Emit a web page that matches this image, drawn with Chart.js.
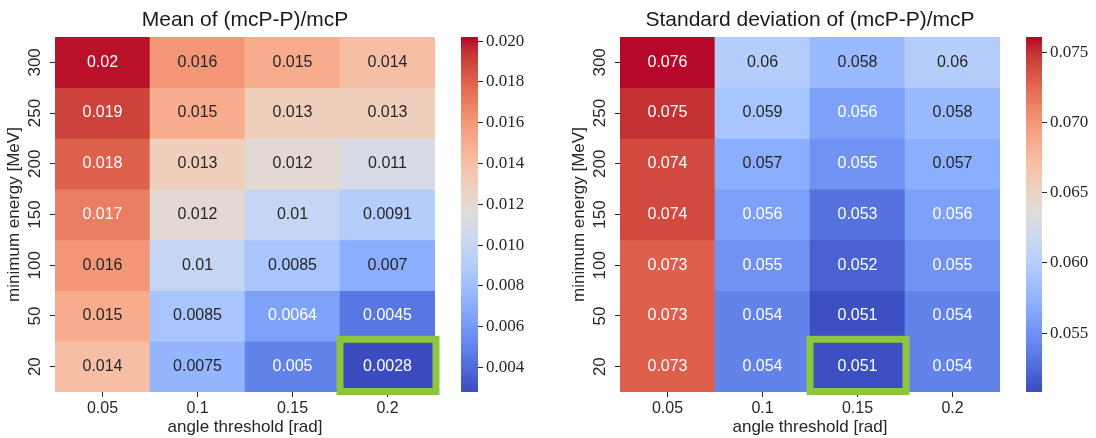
<!DOCTYPE html>
<html>
<head>
<meta charset="utf-8">
<script src="https://cdn.jsdelivr.net/npm/chart.js@4.4.1/dist/chart.umd.min.js"></script>
<style>
  html, body { margin: 0; padding: 0; background: #fff; }
  #wrap { position: relative; width: 1096px; height: 438px; overflow: hidden; }
  canvas { position: absolute; top: 0; }
</style>
</head>
<body>
<div id="wrap">
  <canvas id="meanMap" width="450" height="438" style="left:0px"></canvas>
  <canvas id="meanBar" width="105" height="438" style="left:455px"></canvas>
  <canvas id="stdMap" width="450" height="438" style="left:565px"></canvas>
  <canvas id="stdBar" width="76" height="438" style="left:1020px"></canvas>
</div>
<script>
// Grid labels (rows listed top to bottom)
const angles = ['0.05', '0.1', '0.15', '0.2'];
const energies = ['300', '250', '200', '150', '100', '50', '20'];

// Mean of (mcP-P)/mcP, one array per energy row
const meanValues = [
  [0.02, 0.016, 0.015, 0.014],
  [0.019, 0.015, 0.013, 0.013],
  [0.018, 0.013, 0.012, 0.011],
  [0.017, 0.012, 0.01, 0.0091],
  [0.016, 0.01, 0.0085, 0.007],
  [0.015, 0.0085, 0.0064, 0.0045],
  [0.014, 0.0075, 0.005, 0.0028]
];

// Standard deviation of (mcP-P)/mcP
const stdValues = [
  [0.076, 0.06, 0.058, 0.06],
  [0.075, 0.059, 0.056, 0.058],
  [0.074, 0.057, 0.055, 0.057],
  [0.074, 0.056, 0.053, 0.056],
  [0.073, 0.055, 0.052, 0.055],
  [0.073, 0.054, 0.051, 0.054],
  [0.073, 0.054, 0.051, 0.054]
];

// Colour scale limits and colorbar ticks
const meanRange = [0.0028, 0.0202];
const stdRange = [0.0508, 0.0761];
const meanTicks = [0.004, 0.006, 0.008, 0.010, 0.012, 0.014, 0.016, 0.018, 0.020];
const stdTicks = [0.055, 0.060, 0.065, 0.070, 0.075];

// Highlighted cells [row, column]
const meanBest = [6, 3];
const stdBest = [6, 2];

// coolwarm colormap samples (blue -> grey -> red)
const coolwarm = [
  [59,76,192],[68,90,204],[77,104,215],[87,117,225],[98,130,234],[108,142,241],
  [119,154,247],[130,165,251],[141,176,254],[152,185,255],[163,194,255],[174,201,253],
  [184,208,249],[194,213,244],[204,217,238],[213,219,230],[221,221,221],[229,216,209],
  [236,211,197],[241,204,185],[245,196,173],[247,187,160],[247,177,148],[247,166,135],
  [244,154,123],[241,141,111],[236,127,99],[229,112,88],[222,96,77],[213,80,66],
  [203,62,56],[192,40,47],[180,4,38]
];

function cmap(t) {
  t = Math.max(0, Math.min(1, t));
  const p = t * (coolwarm.length - 1);
  const i = Math.min(Math.floor(p), coolwarm.length - 2);
  const f = p - i;
  return coolwarm[i].map((c, k) => Math.round(c + (coolwarm[i + 1][k] - c) * f));
}

function luminance(rgb) {
  const lin = rgb.map(c => {
    c = c / 255;
    return c <= 0.03928 ? c / 12.92 : Math.pow((c + 0.055) / 1.055, 2.4);
  });
  return 0.2126 * lin[0] + 0.7152 * lin[1] + 0.0722 * lin[2];
}

const SANS = 'Liberation Sans';
const SERIF = 'Liberation Serif';
const INK = '#262626';

function heatmap(id, title, values, range, best) {
  const n = energies.length;
  const colours = values.map(row => row.map(v => cmap((v - range[0]) / (range[1] - range[0]))));

  const datasets = values.map((row, r) => ({
    data: row.map(() => [n - 1 - r, n - r]),
    backgroundColor: colours[r].map(c => `rgb(${c.join(',')})`),
    borderWidth: 0,
    grouped: false,
    barPercentage: 1,
    categoryPercentage: 1
  }));

  // value text inside every cell
  const cellText = {
    id: 'cellText',
    afterDatasetsDraw(chart) {
      const ctx = chart.ctx;
      ctx.save();
      ctx.font = `16px "${SANS}"`;
      ctx.textAlign = 'center';
      ctx.textBaseline = 'middle';
      values.forEach((row, r) => {
        const meta = chart.getDatasetMeta(r);
        row.forEach((v, c) => {
          const bar = meta.data[c];
          ctx.fillStyle = luminance(colours[r][c]) > 0.408 ? INK : '#ffffff';
          ctx.fillText(String(v), bar.x, (bar.y + bar.base) / 2);
        });
      });
      ctx.restore();
    }
  };

  // green frame around the best cell, plus the panel title
  const decorations = {
    id: 'decorations',
    afterDraw(chart) {
      const ctx = chart.ctx;
      const bar = chart.getDatasetMeta(best[0]).data[best[1]];
      const top = Math.min(bar.y, bar.base);
      const h = Math.abs(bar.base - bar.y);
      ctx.save();
      ctx.strokeStyle = '#8cc63e';
      ctx.lineWidth = 7;
      ctx.strokeRect(bar.x - bar.width / 2, top - 2, bar.width + 1, h + 1.5);

      const area = chart.chartArea;
      ctx.fillStyle = '#1a1a1a';
      ctx.font = `21px "${SANS}"`;
      ctx.textAlign = 'center';
      ctx.textBaseline = 'middle';
      ctx.fillText(title, (area.left + area.right) / 2, 20);
      ctx.restore();
    }
  };

  new Chart(document.getElementById(id), {
    type: 'bar',
    data: { labels: angles, datasets },
    options: {
      responsive: false,
      animation: false,
      events: [],
      layout: { padding: { top: 37, right: 15, left: 0, bottom: 0 } },
      plugins: { legend: { display: false }, tooltip: { enabled: false } },
      scales: {
        x: {
          grid: { offset: false, drawOnChartArea: false, tickLength: 5, color: INK },
          border: { display: false },
          ticks: { font: { family: SANS, size: 16 }, color: INK, padding: 2, maxRotation: 0 },
          title: {
            display: true, text: 'angle threshold [rad]', color: INK,
            font: { family: SANS, size: 17 }, padding: { top: 0, bottom: 0 }
          },
          afterFit: s => { s.height = 46; }
        },
        y: {
          min: 0,
          max: n,
          beginAtZero: false,
          afterBuildTicks: s => { s.ticks = energies.map((e, r) => ({ value: n - 1 - r + 0.5 })); },
          grid: { drawOnChartArea: false, tickLength: 5, color: INK },
          border: { display: false },
          ticks: {
            font: { family: SANS, size: 17 }, color: INK, padding: 1,
            minRotation: 90, maxRotation: 90, crossAlign: 'center',
            callback: v => energies[n - 1 - Math.floor(v)]
          },
          title: {
            display: true, text: 'minimum energy [MeV]', color: INK,
            font: { family: SANS, size: 17 }, padding: { top: 4, bottom: 0 }
          },
          afterFit: s => { s.width = 55; }
        }
      }
    },
    plugins: [cellText, decorations]
  });
}

function colorbar(id, range, ticks, axisWidth) {
  new Chart(document.getElementById(id), {
    type: 'bar',
    data: {
      labels: [''],
      datasets: [{
        data: [range],
        borderWidth: 0,
        barPercentage: 1,
        categoryPercentage: 1,
        backgroundColor: ctx => {
          const area = ctx.chart.chartArea;
          if (!area) return null;
          const g = ctx.chart.ctx.createLinearGradient(0, area.bottom, 0, area.top);
          coolwarm.forEach((c, i) => g.addColorStop(i / (coolwarm.length - 1), `rgb(${c.join(',')})`));
          return g;
        }
      }]
    },
    options: {
      responsive: false,
      animation: false,
      events: [],
      layout: { padding: { left: 6, top: 37, bottom: 46, right: 0 } },
      plugins: { legend: { display: false }, tooltip: { enabled: false } },
      scales: {
        x: { display: false },
        y: {
          position: 'right',
          min: range[0],
          max: range[1],
          beginAtZero: false,
          afterBuildTicks: s => { s.ticks = ticks.map(v => ({ value: v })); },
          afterFit: s => { s.width = axisWidth; },
          grid: { drawOnChartArea: false, tickLength: 5, color: INK },
          border: { display: false },
          ticks: {
            font: { family: SERIF, size: 17 }, color: INK, padding: 3,
            callback: v => v.toFixed(3)
          }
        }
      }
    }
  });
}

heatmap('meanMap', 'Mean of (mcP-P)/mcP', meanValues, meanRange, meanBest);
colorbar('meanBar', meanRange, meanTicks, 82);
heatmap('stdMap', 'Standard deviation of (mcP-P)/mcP', stdValues, stdRange, stdBest);
colorbar('stdBar', stdRange, stdTicks, 54);
</script>
</body>
</html>
